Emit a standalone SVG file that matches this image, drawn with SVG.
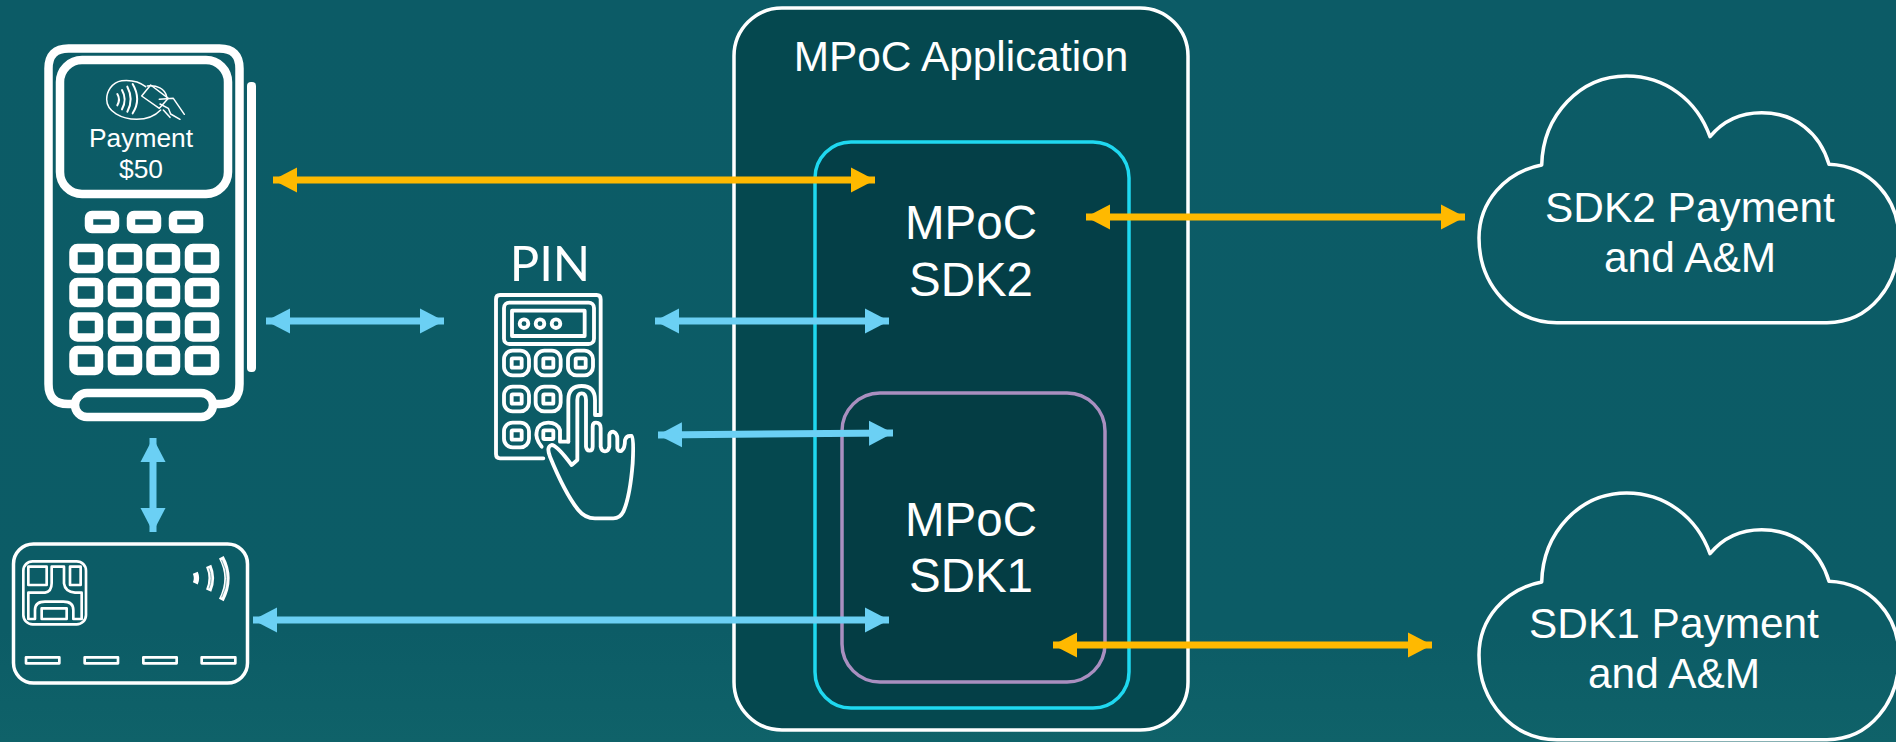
<svg xmlns="http://www.w3.org/2000/svg" width="1896" height="742" viewBox="0 0 1896 742">
<style>
text{font-family:"Liberation Sans",Arial,sans-serif;fill:#fff;text-anchor:middle}
.w{fill:none;stroke:#fff;stroke-linejoin:round;stroke-linecap:round}
.k{fill:none;stroke:#fff;stroke-width:8.5}
.gold{stroke:#ffb900;stroke-width:7;fill:none;marker-start:url(#hg);marker-end:url(#hg)}
.blue{stroke:#6bd0f4;stroke-width:7;fill:none;marker-start:url(#hb);marker-end:url(#hb)}
.t47{font-size:47.5px}.t42{font-size:42.4px}.t26{font-size:26.4px}
</style>
<defs>
<linearGradient id="bg" x1="0" y1="0" x2="0" y2="1"><stop offset="0" stop-color="#0c5b66"/><stop offset=".85" stop-color="#0c5c66"/><stop offset="1" stop-color="#0f6269"/></linearGradient>
<marker id="hg" markerUnits="userSpaceOnUse" markerWidth="25" markerHeight="26" refX="24" refY="13" orient="auto-start-reverse"><path d="M0,0.500L24,13L0,25.500Z" fill="#ffb900"/></marker>
<marker id="hb" markerUnits="userSpaceOnUse" markerWidth="25" markerHeight="26" refX="24" refY="13" orient="auto-start-reverse"><path d="M0,0.500L24,13L0,25.500Z" fill="#6bd0f4"/></marker>
<path id="cloud" class="w" stroke-width="3.500" d="M1541.7,165C1543,115 1580,76 1626.7,76C1665,76 1697,100 1710,136.7C1722,122 1740,112.7 1761.7,112.7C1795,112.7 1820,133 1829,164.3C1870,166 1899,198 1899,240C1899,285 1870,322.7 1827,322.7H1557C1513,322.7 1479,285 1479,238C1479,202 1505,172 1541.7,165Z"/>
</defs>
<rect width="1896" height="742" fill="url(#bg)"/>

<g id="app"><rect x="734" y="8" width="454" height="722" rx="48" fill="#05484f" stroke="#fff" stroke-width="3.500"/><text class="t42" x="961" y="71">MPoC Application</text></g>
<g id="sdk2"><rect x="815" y="142" width="314" height="566" rx="36" fill="#043f47" stroke="#1fd8f0" stroke-width="3.500"/><text class="t47" x="971" y="239">MPoC</text><text class="t47" x="971" y="296">SDK2</text></g>
<g id="sdk1"><rect x="842" y="393" width="263" height="289" rx="38" fill="#043d44" stroke="#a98fc0" stroke-width="3.500"/><text class="t47" x="971" y="536">MPoC</text><text class="t47" x="971" y="592">SDK1</text></g>

<g id="terminal">
<path class="k" d="M72,404H68Q48.500,404 48.500,384V68.500Q48.500,48.500 68.500,48.500H219.500Q239.500,48.500 239.500,68.500V384Q239.500,404 219.500,404H215"/>
<rect class="k" x="75" y="393" width="138" height="24" rx="12"/>
<rect class="k" x="60" y="60" width="168" height="134" rx="22"/>
<rect x="247" y="82" width="9" height="290" rx="4" fill="#fff"/>
<g class="k"><rect x="89" y="215" width="26" height="14" rx="3"/><rect x="131" y="215" width="26" height="14" rx="3"/><rect x="173" y="215" width="26" height="14" rx="3"/>
<rect x="73.500" y="248" width="25.500" height="21" rx="4"/><rect x="112" y="248" width="26" height="21" rx="4"/><rect x="150.500" y="248" width="25.500" height="21" rx="4"/><rect x="189" y="248" width="26" height="21" rx="4"/>
<rect x="73.500" y="282" width="25.500" height="21" rx="4"/><rect x="112" y="282" width="26" height="21" rx="4"/><rect x="150.500" y="282" width="25.500" height="21" rx="4"/><rect x="189" y="282" width="26" height="21" rx="4"/>
<rect x="73.500" y="316.500" width="25.500" height="21" rx="4"/><rect x="112" y="316.500" width="26" height="21" rx="4"/><rect x="150.500" y="316.500" width="25.500" height="21" rx="4"/><rect x="189" y="316.500" width="26" height="21" rx="4"/>
<rect x="73.500" y="350" width="25.500" height="21" rx="4"/><rect x="112" y="350" width="26" height="21" rx="4"/><rect x="150.500" y="350" width="25.500" height="21" rx="4"/><rect x="189" y="350" width="26" height="21" rx="4"/></g>
<g transform="translate(0,30) scale(.33333)" class="w" stroke-width="4.500">
<path d="M437,170C415,152 385,150 365,152C335,157 320,185 320,208C320,245 365,268 410,268C440,268 465,258 482,240"/>
<path d="M442,168C470,165 495,175 500,200"/>
<path d="M352,192Q362,208 352,226M366,180Q382,208 366,238M382,170Q402,208 382,245M398,162Q425,208 398,250" stroke-width="6"/>
<path d="M425,198L452,165L505,205L478,235Z"/>
<path d="M478,208L520,205L553,253M480,222L505,235L512,252L540,268M490,240L510,262"/>
</g>
<text class="t26" x="141" y="147">Payment</text><text class="t26" x="141" y="178">$50</text>
</g>

<g id="card">
<rect x="13.500" y="544" width="234" height="139" rx="20" fill="none" stroke="#fff" stroke-width="3.500"/>
<g transform="translate(0,420) scale(.33333)" class="w" stroke-width="8">
<rect x="70" y="424" width="188" height="189" rx="28"/>
<rect x="85" y="440" width="55" height="55"/>
<path d="M155,440V490Q155,515 135,518H85V597H105V570Q105,545 135,545H190Q220,545 220,570V597H245V518H225Q195,515 192,490V440Z"/>
<rect x="210" y="440" width="32" height="55"/>
<rect x="125" y="565" width="75" height="32"/>
<rect x="78" y="712" width="100" height="18"/><rect x="254" y="712" width="100" height="18"/><rect x="430" y="712" width="100" height="18"/><rect x="605" y="712" width="101" height="18"/>
<path d="M586,458Q593,475 586,490" stroke-width="16" stroke-linecap="butt"/>
<path d="M626,438Q642,475 626,512" stroke-width="17" stroke-linecap="butt"/>
<path d="M664,412Q698,475 664,540" stroke-width="16" stroke-linecap="butt"/>
<path d="M627,445Q640,475 627,505M665,420Q694,475 665,532" stroke="#7fa8ae" stroke-width="3" stroke-linecap="butt"/>
</g>
</g>

<g id="pin">
<text x="550" y="281" style="font-family:Lato,'Liberation Sans',sans-serif;font-size:49px;font-weight:400">PIN</text>
<g transform="translate(470,230) scale(.33333)" class="w" stroke-width="11.500">
<path d="M220,685H90Q78,685 78,672V208Q78,195 90,195H380Q392,195 392,208V555H375V510Q375,468 335,468Q295,468 295,510V635"/>
<rect x="102" y="218" width="270" height="124" rx="16"/>
<rect x="126" y="242" width="218" height="76"/>
<circle cx="162" cy="281" r="13"/><circle cx="210" cy="281" r="13"/><circle cx="258" cy="281" r="13"/>
<rect x="102" y="362" width="75" height="74" rx="26"/><rect x="197" y="362" width="75" height="74" rx="26"/><rect x="294" y="362" width="75" height="74" rx="26"/>
<rect x="102" y="470" width="75" height="74" rx="26"/><rect x="197" y="470" width="75" height="74" rx="26"/>
<rect x="102" y="578" width="75" height="74" rx="26"/>
<path d="M215,650Q195,625 200,605Q205,578 235,578Q262,578 270,600V635H295"/>
<rect x="125" y="385" width="30" height="28" rx="3"/><rect x="220" y="385" width="30" height="28" rx="3"/><rect x="317" y="385" width="30" height="28" rx="3"/>
<rect x="125" y="493" width="30" height="28" rx="3"/><rect x="220" y="493" width="30" height="28" rx="3"/>
<rect x="125" y="601" width="30" height="28" rx="3"/><rect x="220" y="601" width="30" height="26" rx="3"/>
<path d="M305,705L322,690V510Q322,490 335,490Q348,490 348,510V650Q350,662 358,662Q368,662 368,650V590Q368,578 378,578Q392,578 392,595V650Q395,664 405,664Q415,664 418,650V615Q420,605 430,605Q442,610 442,625V655Q445,667 455,662Q465,655 465,630Q470,615 485,618Q492,625 488,700Q480,800 460,845Q450,865 430,865H375Q345,865 325,840Q285,790 240,680Q228,650 245,645Q260,645 305,705Z"/>
</g>
</g>

<g id="cloud2"><use href="#cloud"/><text class="t42" x="1690" y="222">SDK2 Payment</text><text class="t42" x="1690" y="272">and A&amp;M</text></g>
<g id="cloud1"><use href="#cloud" transform="translate(0,417)"/><text class="t42" x="1674" y="638">SDK1 Payment</text><text class="t42" x="1674" y="688">and A&amp;M</text></g>

<g id="connectors">
<path class="gold" d="M273,180H875"/>
<path class="gold" d="M1086,217H1465"/>
<path class="gold" d="M1053,645H1432"/>
<path class="blue" d="M266,321H444"/>
<path class="blue" d="M655,321H889"/>
<path class="blue" d="M658,435L893,433"/>
<path class="blue" d="M253,620H889"/>
<path class="blue" d="M153,438V532"/>
</g>
</svg>
